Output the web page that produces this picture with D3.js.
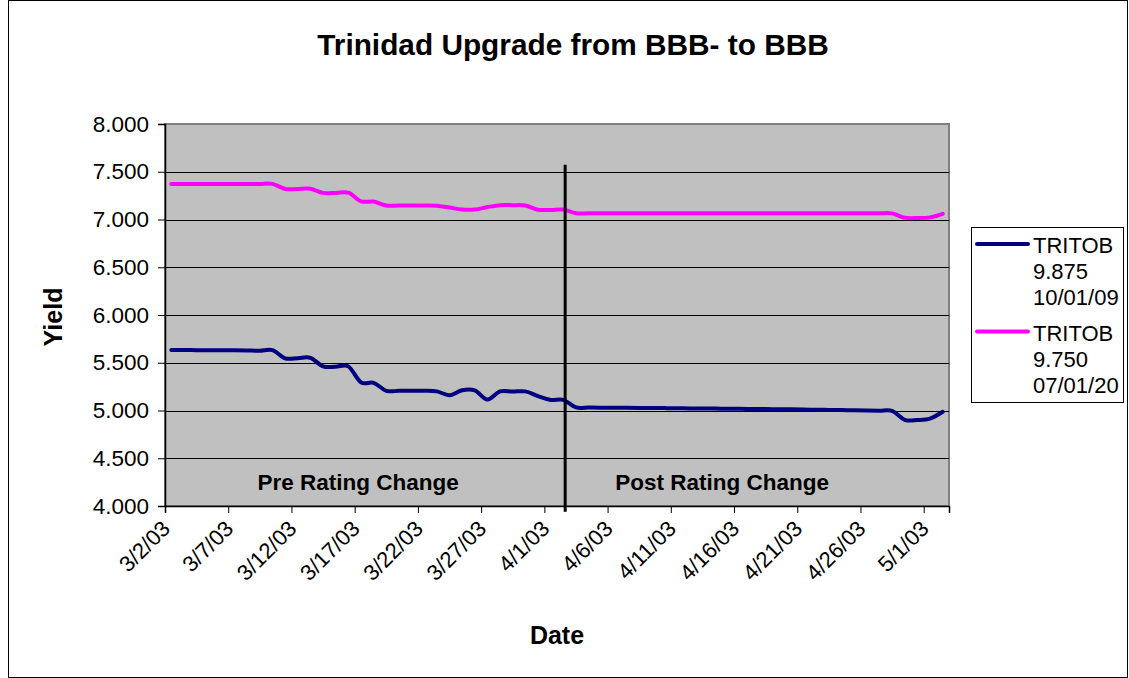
<!DOCTYPE html>
<html>
<head>
<meta charset="utf-8">
<script src="https://cdn.jsdelivr.net/npm/d3@7"></script>
<style>
  html, body { margin: 0; padding: 0; background: #ffffff; }
  svg { display: block; font-family: "Liberation Sans", Arial, sans-serif; }
</style>
</head>
<body>
<svg id="chart" width="1129" height="678"></svg>
<script>
// ---------------- data ----------------
const startDate = "2003-03-02";
const dayCount = 62; // 3/2/03 .. 5/2/03, one point per day

const series1Name = ["TRITOB", "9.875", "10/01/09"];
const series1Values = [
  5.633, 5.633, 5.632, 5.632, 5.631, 5.630, 5.628, 5.626, 5.632, 5.546,
  5.548, 5.552, 5.462, 5.458, 5.462, 5.294, 5.290, 5.206, 5.206, 5.207,
  5.206, 5.200, 5.160, 5.212, 5.210, 5.115, 5.200, 5.198, 5.200, 5.150,
  5.110, 5.112, 5.032, 5.031, 5.030, 5.029, 5.028, 5.027, 5.026, 5.025,
  5.024, 5.022, 5.021, 5.020, 5.019, 5.018, 5.016, 5.015, 5.013, 5.012,
  5.010, 5.008, 5.006, 5.004, 5.002, 5.000, 4.998, 4.997, 4.902, 4.900,
  4.915, 4.987
];

const series2Name = ["TRITOB", "9.750", "07/01/20"];
const series2Values = [
  7.373, 7.373, 7.373, 7.373, 7.373, 7.373, 7.373, 7.373, 7.373, 7.320,
  7.320, 7.322, 7.279, 7.278, 7.281, 7.190, 7.188, 7.146, 7.146, 7.146,
  7.146, 7.144, 7.125, 7.104, 7.104, 7.130, 7.150, 7.150, 7.146, 7.102,
  7.100, 7.104, 7.065, 7.065, 7.065, 7.065, 7.065, 7.065, 7.065, 7.065,
  7.065, 7.065, 7.065, 7.065, 7.065, 7.065, 7.065, 7.065, 7.065, 7.065,
  7.065, 7.065, 7.065, 7.065, 7.065, 7.065, 7.065, 7.064, 7.018, 7.016,
  7.022, 7.060
];

const xTickLabels = ["3/2/03", "3/7/03", "3/12/03", "3/17/03", "3/22/03", "3/27/03",
  "4/1/03", "4/6/03", "4/11/03", "4/16/03", "4/21/03", "4/26/03", "5/1/03"];
const yTickValues = [4.0, 4.5, 5.0, 5.5, 6.0, 6.5, 7.0, 7.5, 8.0];
const yDomain = [4.0, 8.0];

const titleText = "Trinidad Upgrade from BBB- to BBB";
const xTitle = "Date";
const yTitle = "Yield";
const regionLabels = ["Pre Rating Change", "Post Rating Change"];
// rating-change divider (in data units: date/time and yield)
const dividerDate = "2003-04-02T15:30";
const dividerYield = [7.572, 3.94];

// ---------------- layout ----------------
const svg = d3.select("#chart");
const W = 1129, H = 678;
const plot = { left: 165, top: 124, right: 949, bottom: 506 };
const font = '"Liberation Sans", Arial, sans-serif';
const navy = "#000080", magenta = "#FF00FF";

const parseDay = d3.timeParse("%Y-%m-%d");
const parseMD = d3.timeParse("%m/%d/%y");
const parseDT = d3.timeParse("%Y-%m-%dT%H:%M");
const d0 = parseDay(startDate);
const days = d3.timeDay.range(d0, d3.timeDay.offset(d0, dayCount));

const x = d3.scaleTime()
  .domain([d0, d3.timeDay.offset(d0, dayCount)])
  .range([plot.left, plot.right]);
const y = d3.scaleLinear().domain(yDomain).range([plot.bottom, plot.top]);
const mid = d => d3.timeHour.offset(d, 12);

// outer chart border
svg.append("rect").attr("x", 8.5).attr("y", 0.5).attr("width", W - 10).attr("height", H - 1)
  .attr("fill", "#fff").attr("stroke", "#000").attr("stroke-width", 1);

// plot area
svg.append("rect")
  .attr("x", plot.left).attr("y", plot.top)
  .attr("width", plot.right - plot.left).attr("height", plot.bottom - plot.top)
  .attr("fill", "#C0C0C0").attr("stroke", "#808080").attr("stroke-width", 2);

// gridlines
svg.append("g").selectAll("line").data(yTickValues.filter(v => v > yDomain[0] && v < yDomain[1]))
  .join("line")
  .attr("x1", plot.left).attr("x2", plot.right)
  .attr("y1", d => Math.round(y(d)) + 0.5).attr("y2", d => Math.round(y(d)) + 0.5)
  .attr("stroke", "#000").attr("stroke-width", 1);

// y axis
const yAxis = d3.axisLeft(y).tickValues(yTickValues).tickFormat(d3.format(".3f")).tickSizeOuter(0).tickSize(7).tickPadding(9);
const gy = svg.append("g").attr("transform", `translate(${plot.left},0)`).call(yAxis);
gy.select(".domain").attr("stroke", "#000").attr("stroke-width", 1.5);
gy.selectAll(".tick line").attr("stroke", "#000");
gy.selectAll(".tick text").attr("font-family", font).attr("font-size", 22.5).attr("fill", "#000");

// x axis
const xTickDates = xTickLabels.map(s => parseMD(s));
const xAxis = d3.axisBottom(x).tickValues(xTickDates).tickFormat((d, i) => xTickLabels[i]).tickSizeOuter(0).tickSize(7);
const gx = svg.append("g").attr("transform", `translate(0,${plot.bottom})`).call(xAxis);
gx.select(".domain").attr("stroke", "#000").attr("stroke-width", 1.5);
gx.selectAll(".tick line").attr("stroke", "#000");
gx.selectAll(".tick text")
  .attr("font-family", font).attr("font-size", 22).attr("fill", "#000")
  .attr("text-anchor", "end")
  .attr("dy", null)
  .attr("y", 0)
  .attr("transform", "translate(6,24) rotate(-45)");

// lines
const line = d3.line().x((d, i) => x(mid(days[i]))).y(d => y(d)).curve(d3.curveCatmullRom.alpha(0));
svg.append("path").datum(series2Values).attr("d", line)
  .attr("fill", "none").attr("stroke", magenta).attr("stroke-width", 4).attr("stroke-linecap", "round").attr("stroke-linejoin", "round");
svg.append("path").datum(series1Values).attr("d", line)
  .attr("fill", "none").attr("stroke", navy).attr("stroke-width", 4).attr("stroke-linecap", "round").attr("stroke-linejoin", "round");

// divider
const dx = x(parseDT(dividerDate));
svg.append("line")
  .attr("x1", dx).attr("x2", dx)
  .attr("y1", y(dividerYield[0])).attr("y2", y(dividerYield[1]))
  .attr("stroke", "#000").attr("stroke-width", 3);

// region labels
const preCenter = (x(d0) + dx) / 2 - 7;
const postCenter = (dx + x.range()[1]) / 2 - 35;
svg.append("text").attr("x", preCenter).attr("y", 490).attr("text-anchor", "middle")
  .attr("font-family", font).attr("font-weight", "bold").attr("font-size", 22.5).text(regionLabels[0]);
svg.append("text").attr("x", postCenter).attr("y", 490).attr("text-anchor", "middle")
  .attr("font-family", font).attr("font-weight", "bold").attr("font-size", 22.5).text(regionLabels[1]);

// title
svg.append("text").attr("x", 573).attr("y", 55).attr("text-anchor", "middle")
  .attr("font-family", font).attr("font-weight", "bold").attr("font-size", 29.8).text(titleText);
svg.append("text").attr("x", 557).attr("y", 644).attr("text-anchor", "middle")
  .attr("font-family", font).attr("font-weight", "bold").attr("font-size", 25).text(xTitle);
svg.append("text").attr("transform", "translate(62,317) rotate(-90)").attr("text-anchor", "middle")
  .attr("font-family", font).attr("font-weight", "bold").attr("font-size", 25).text(yTitle);

// legend
const lg = svg.append("g");
lg.append("rect").attr("x", 971.5).attr("y", 227.5).attr("width", 152).attr("height", 175)
  .attr("fill", "#fff").attr("stroke", "#000").attr("stroke-width", 1);
const entries = [
  { name: series1Name, color: navy, top: 244 },
  { name: series2Name, color: magenta, top: 331.5 }
];
entries.forEach(e => {
  lg.append("line").attr("x1", 977).attr("x2", 1028).attr("y1", e.top).attr("y2", e.top)
    .attr("stroke", e.color).attr("stroke-width", 4).attr("stroke-linecap", "round");
  e.name.forEach((t, i) => {
    lg.append("text").attr("x", 1033).attr("y", e.top + 9 + i * 26)
      .attr("font-family", font).attr("font-size", 22).attr("fill", "#000").text(t);
  });
});
</script>
</body>
</html>
